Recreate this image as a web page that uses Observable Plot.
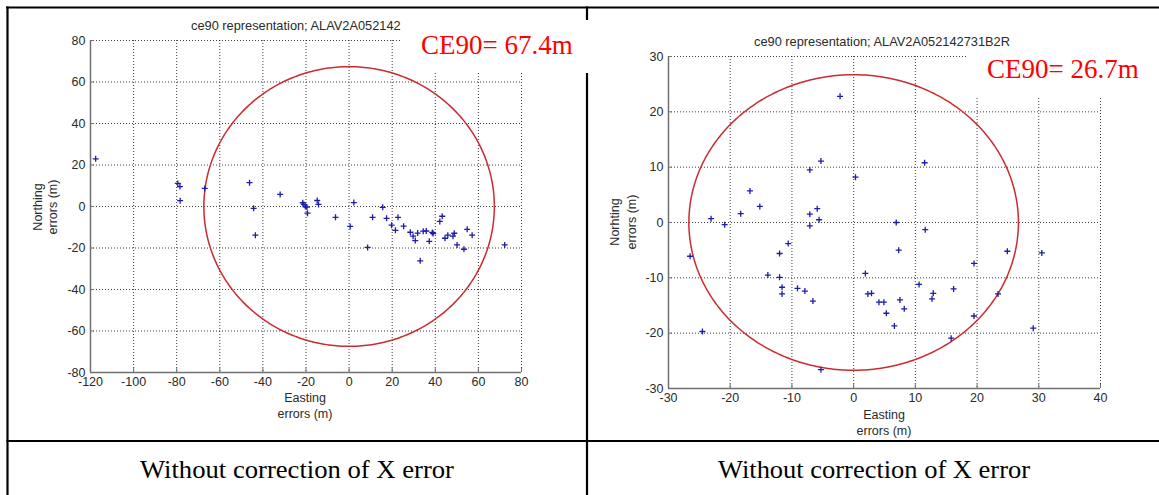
<!DOCTYPE html>
<html><head><meta charset="utf-8">
<script src="https://cdn.jsdelivr.net/npm/d3@7"></script>
<script src="https://cdn.jsdelivr.net/npm/@observablehq/plot@0.6"></script>
<style>
html,body{margin:0;padding:0;background:#fff;}
#page{position:relative;width:1159px;height:495px;overflow:hidden;background:#fff;}
.panel{position:absolute;top:8px;}
#overlay{position:absolute;left:0;top:0;}
</style></head><body>
<div id="page">
  <div id="left" class="panel" style="left:8px"></div>
  <div id="right" class="panel" style="left:588px"></div>
  <svg id="overlay" width="1159" height="495"></svg>
</div>
<script>
// ---------- data ----------
const leftTitle = "ce90 representation; ALAV2A052142";
const rightTitle = "ce90 representation; ALAV2A052142731B2R";
const leftCE90 = 67.4;
const rightCE90 = 26.7;
const leftXTicks = [-120, -100, -80, -60, -40, -20, 0, 20, 40, 60, 80];
const leftYTicks = [-80, -60, -40, -20, 0, 20, 40, 60, 80];
const rightXTicks = [-30, -20, -10, 0, 10, 20, 30, 40];
const rightYTicks = [-30, -20, -10, 0, 10, 20, 30];
const leftEasting = [-117.6, -79.5, -78.5, -78.4, -67.0, -46.2, -44.3, -43.5, -32.0, -21.5, -21.0, -20.3, -19.6, -19.3,
  -14.8, -14.2, -6.3, 0.5, 2.2, 8.6, 10.9, 15.6, 17.4, 19.7, 21.5, 22.7, 25.3, 28.4, 29.7, 30.7, 31.8, 33.0, 34.4,
  35.8, 37.2, 38.6, 39.0, 42.1, 43.2, 44.5, 45.8, 48.2, 48.8, 50.1, 53.3, 54.8, 57.1, 72.2];
const leftNorthing = [23.0, 11.1, 9.6, 2.8, 8.7, 11.5, -0.9, -13.8, 5.8, 1.8, 1.0, 0.0, -0.3, -3.2,
  2.9, 1.0, -5.2, -9.6, 1.9, -19.7, -5.2, -0.4, -5.7, -9.0, -11.5, -5.2, -9.5, -12.4, -14.3, -16.4, -12.8, -26.2, -11.9,
  -11.8, -16.8, -12.5, -13.0, -7.2, -4.7, -15.3, -13.8, -14.3, -12.9, -18.5, -20.6, -11.0, -13.8, -18.5];
const rightEasting = [-2.2, -5.3, -7.1, 0.3, 11.5, -16.8, -15.2, -18.3, -23.1, -20.9, -7.1, -5.9, -5.6, -7.1, 6.9, 11.6,
  7.3, -10.6, -12.0, -26.5, 24.9, 30.5, 19.5, -13.9, -12.0, -11.6, -11.6, -9.1, -7.9, -6.6, 1.9, 2.3, 2.9, 4.1, 4.9,
  5.3, 6.6, 7.5, 8.2, 10.6, 12.9, 12.7, 16.2, 23.4, 19.5, 29.1, 15.8, -24.5, -5.3];
const rightNorthing = [22.8, 11.1, 9.5, 8.2, 10.8, 5.7, 2.9, 1.6, 0.7, -0.4, 1.5, 2.5, 0.5, -0.6, 0.0, -1.3,
  -5.0, -3.8, -5.6, -6.1, -5.2, -5.5, -7.4, -9.5, -9.9, -11.7, -12.9, -11.9, -12.4, -14.2, -9.2, -12.9, -12.8, -14.4, -14.4,
  -16.4, -18.7, -14.0, -15.6, -11.2, -12.8, -13.8, -12.0, -12.9, -16.9, -19.1, -20.9, -19.7, -26.6];
const caption = "Without correction of X error";

// ---------- chart ----------
const plusSymbol = {
  draw(ctx, size) {
    const r = Math.sqrt(size / Math.PI);
    ctx.moveTo(-r, 0); ctx.lineTo(r, 0);
    ctx.moveTo(0, -r); ctx.lineTo(0, r);
  }
};

function panel({xTicks, yTicks, ex, ny, radius, m}) {
  const W = 570, H = 428;
  const xDomain = [xTicks[0], xTicks[xTicks.length - 1]];
  const yDomain = [yTicks[0], yTicks[yTicks.length - 1]];
  const plotW = W - m.left - m.right, plotH = H - m.top - m.bottom;
  const pts = ex.map((e, i) => ({e, n: ny[i]}));
  const circle = d3.range(0, 361).map(a => ({
    e: radius * Math.cos(a * Math.PI / 180),
    n: radius * Math.sin(a * Math.PI / 180)
  }));
  const axisColor = "#707070";
  return Plot.plot({
    width: W, height: H,
    marginLeft: m.left, marginRight: m.right, marginTop: m.top, marginBottom: m.bottom,
    style: {fontFamily: "'Liberation Sans', Arial, sans-serif", fontSize: "12.5px", color: "#2a2a2a", background: "transparent", overflow: "visible"},
    x: {domain: xDomain, ticks: xTicks, tickSize: 0, tickPadding: 5, tickFormat: d => String(d), label: null},
    y: {domain: yDomain, ticks: yTicks, tickSize: 0, tickPadding: 5, tickFormat: d => String(d), label: null},
    marks: [
      Plot.ruleX(xTicks, {x: d => d, stroke: "#1a1a1a", strokeDasharray: "1,2", strokeOpacity: 0.85}),
      Plot.ruleY(yTicks, {y: d => d, stroke: "#1a1a1a", strokeDasharray: "1,2", strokeOpacity: 0.85}),
      Plot.line(circle, {x: "e", y: "n", stroke: "#cc2b2f", strokeWidth: 1.5}),
      Plot.dot(pts, {x: "e", y: "n", symbol: plusSymbol, r: 3, fill: "none", stroke: "#1d1da8", strokeWidth: 1.3}),
      Plot.ruleX(xTicks, {x: d => d, insetTop: plotH - 4, stroke: axisColor}),
      Plot.ruleY(yTicks, {y: d => d, insetRight: plotW - 4, stroke: axisColor}),
      Plot.ruleX([xDomain[0]], {x: d => d, stroke: axisColor, strokeWidth: 1.5}),
      Plot.ruleY([yDomain[0]], {y: d => d, stroke: axisColor, strokeWidth: 1.5})
    ]
  });
}

document.getElementById("left").appendChild(panel({
  xTicks: leftXTicks, yTicks: leftYTicks, ex: leftEasting, ny: leftNorthing, radius: leftCE90,
  m: {left: 82, right: 57, top: 32, bottom: 64}
}));
document.getElementById("right").appendChild(panel({
  xTicks: rightXTicks, yTicks: rightYTicks, ex: rightEasting, ny: rightNorthing, radius: rightCE90,
  m: {left: 80, right: 58, top: 48, bottom: 48}
}));

// ---------- page decorations ----------
const ov = d3.select("#overlay");
const sans = "'Liberation Sans', Arial, sans-serif";
const serif = "'Liberation Serif', 'Times New Roman', serif";
// table lines
ov.append("line").attr("x1", 6).attr("x2", 1159).attr("y1", 7.5).attr("y2", 7.5).attr("stroke", "#000").attr("stroke-width", 2.2);
ov.append("line").attr("x1", 7.5).attr("x2", 7.5).attr("y1", 6.5).attr("y2", 495).attr("stroke", "#000").attr("stroke-width", 2.2);
ov.append("line").attr("x1", 587).attr("x2", 587).attr("y1", 6.5).attr("y2", 495).attr("stroke", "#000").attr("stroke-width", 2.2);
ov.append("line").attr("x1", 6.5).attr("x2", 1159).attr("y1", 441).attr("y2", 441).attr("stroke", "#000").attr("stroke-width", 2.2);
// white label boxes
ov.append("rect").attr("x", 400).attr("y", 20).attr("width", 192).attr("height", 53).attr("fill", "#fff");
ov.append("rect").attr("x", 967).attr("y", 50).attr("width", 192).attr("height", 48).attr("fill", "#fff");

function txt(x, y, s, o = {}) {
  const t = ov.append("text").attr("x", x).attr("y", y).text(s)
    .attr("font-family", o.family || sans).attr("font-size", o.size || 12.5)
    .attr("fill", o.fill || "#2a2a2a").attr("text-anchor", o.anchor || "middle");
  if (o.rotate) t.attr("transform", `rotate(-90 ${x} ${y})`);
  if (o.len) t.attr("textLength", o.len).attr("lengthAdjust", "spacingAndGlyphs");
  return t;
}
// titles
txt(191, 30, leftTitle, {anchor: "start", size: 12.8});
txt(754, 46, rightTitle, {anchor: "start", size: 12.8});
// axis labels
txt(305, 402, "Easting");
txt(305, 418, "errors (m)");
txt(884, 419, "Easting");
txt(884, 435, "errors (m)");
txt(42, 207, "Northing", {rotate: true});
txt(57, 207, "errors (m)", {rotate: true});
txt(619, 222, "Norhting", {rotate: true});
txt(636, 222, "errors (m)", {rotate: true});
// CE90 labels
txt(421, 54, `CE90= ${leftCE90}m`, {anchor: "start", family: serif, size: 27, fill: "#ff0000"});
txt(987, 78, `CE90= ${rightCE90}m`, {anchor: "start", family: serif, size: 27, fill: "#ff0000"});
// captions
txt(297, 478, caption, {family: serif, size: 26, fill: "#000", len: 314});
txt(874, 478, caption, {family: serif, size: 26, fill: "#000", len: 312});
</script>
</body></html>
